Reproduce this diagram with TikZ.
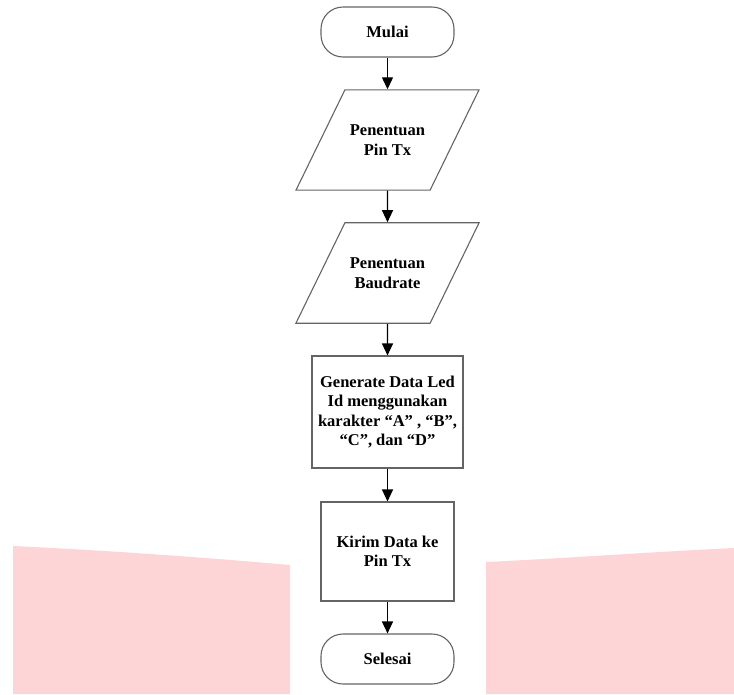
\documentclass[tikz,border=0pt]{standalone}
\usepackage{fontspec}
\setmainfont{Liberation Serif}
\usetikzlibrary{shapes.geometric, arrows.meta}

\definecolor{wmpink}{RGB}{253,213,215}
\definecolor{edgegray}{RGB}{100,100,100}

\tikzset{
    base/.style={draw=edgegray, line width=1.1pt, align=center, inner sep=0pt,
        font=\fontsize{16.5}{19.5}\selectfont\bfseries},
    terminal/.style={base, rectangle, rounded corners=22pt,
        minimum width=133pt, minimum height=50pt},
    io/.style={base, trapezium, trapezium left angle=64, trapezium right angle=116,
        inner xsep=5pt, inner ysep=35pt},
    process/.style={base, rectangle},
    flow/.style={-{Triangle[width=11pt,length=12pt]}, line width=1.3pt},
}

\begin{document}
\begin{tikzpicture}[x=1pt, y=-1pt]
    \useasboundingbox (0,0) rectangle (734,694);

    % faded background shape
    \fill[wmpink] (13,546) .. controls (100,550) and (200,557) .. (290,565)
        -- (290,694) -- (13,694) -- cycle;
    \fill[wmpink] (486,562) .. controls (570,558) and (650,552) .. (734,548)
        -- (734,694) -- (486,694) -- cycle;

    \node[terminal] (mulai) at (387.5,32) {Mulai};
    \node[io] (pintx) at (387.5,140) {Penentuan\\Pin Tx};
    \node[io] (baud) at (387.5,273) {Penentuan\\Baudrate};
    \node[process, minimum width=151pt, minimum height=112pt] (gen) at (387.5,412)
        {Generate Data Led\\Id menggunakan\\karakter ``A'' , ``B'',\\``C'', dan ``D''};
    \node[process, minimum width=133pt, minimum height=99pt] (kirim) at (387.5,551.5)
        {Kirim Data ke\\Pin Tx};
    \node[terminal] (selesai) at (387.5,659) {Selesai};

    \draw[flow] (mulai) -- (pintx);
    \draw[flow] (pintx) -- (baud);
    \draw[flow] (baud) -- (gen);
    \draw[flow] (gen) -- (kirim);
    \draw[flow] (kirim) -- (selesai);
\end{tikzpicture}
\end{document}
